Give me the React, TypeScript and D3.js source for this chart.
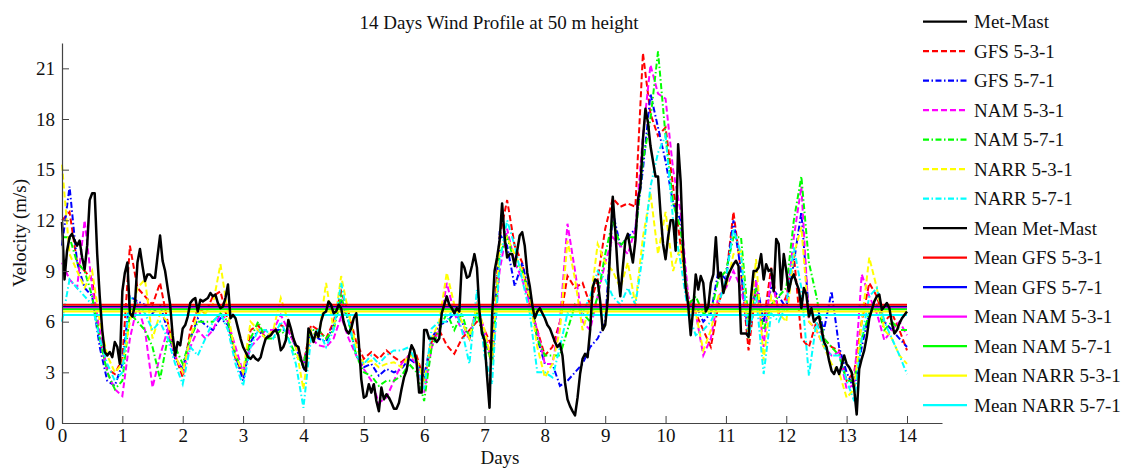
import { useEffect, useRef } from 'react'
import * as d3 from 'd3'

// Met-Mast measured speed, hourly from day 0 to day 14 (m/s)
const metMast = [
  11.9, 8.5, 10.2, 11.0, 11.2, 10.8, 10.5, 10.8, 9.8, 9.1, 10.5, 13.2, 13.6, 13.6, 10.0, 7.5, 5.5, 4.2, 4.0, 4.2, 3.9, 4.8, 4.5, 3.5,
  7.8, 8.9, 9.5, 6.5, 6.3, 7.0, 9.5, 10.3, 9.3, 8.4, 8.8, 8.8, 8.6, 8.6, 9.9, 11.1, 9.6, 9.0, 8.0, 7.0, 5.2, 4.0, 4.8, 4.6,
  5.6, 5.8, 6.3, 7.1, 7.3, 7.4, 6.6, 7.3, 7.2, 7.3, 7.4, 7.7, 7.5, 7.6, 7.1, 6.8, 6.9, 7.4, 8.2, 6.2, 6.4, 6.2, 5.6, 5.0,
  4.5, 4.2, 3.9, 3.8, 4.0, 3.8, 3.7, 3.9, 4.5, 5.0, 5.1, 5.2, 5.4, 5.5, 5.2, 4.3, 4.5, 4.9, 6.1, 5.6, 5.0, 4.6, 4.5, 3.8,
  3.3, 3.1, 5.6, 5.3, 4.8, 5.4, 5.1, 6.0, 6.5, 6.6, 7.2, 7.0, 6.5, 6.6, 7.0, 6.8, 6.0, 5.5, 5.3, 5.6, 6.2, 6.5, 4.8, 2.6,
  1.5, 1.6, 2.3, 1.8, 2.3, 1.3, 0.7, 2.1, 1.4, 1.7, 1.5, 1.2, 0.85, 0.85, 1.2, 2.0, 2.7, 3.1, 4.0, 4.6, 4.3, 3.6, 1.8, 1.8,
  5.5, 5.5, 5.0, 5.0, 5.0, 4.8, 5.0, 6.5, 7.0, 7.5, 7.0, 6.8, 6.5, 6.8, 6.6, 9.5, 9.2, 8.6, 8.7, 9.3, 10.0, 9.2, 6.6, 5.3,
  4.9, 2.8, 0.9, 6.3, 9.0, 9.8, 10.8, 13.0, 11.0, 9.8, 10.0, 10.0, 9.3, 10.2, 11.1, 11.3, 10.5, 8.9, 8.1, 7.0, 6.2, 6.6, 6.8, 6.5,
  6.2, 5.8, 5.6, 5.2, 4.8, 4.5, 4.7, 4.0, 2.4, 1.4, 1.0, 0.7, 0.45, 1.5, 2.9, 3.8, 4.1, 3.9, 5.5, 8.0, 8.5, 8.4, 7.2, 5.5,
  5.8, 7.3, 10.4, 13.4, 11.4, 9.0, 7.5, 9.2, 10.8, 11.2, 10.3, 9.5, 10.8, 13.2, 14.0, 16.8, 18.6, 17.8, 16.4, 15.5, 14.6, 14.6, 12.4, 10.6,
  9.7, 11.0, 12.0, 12.0, 10.2, 16.5, 14.3, 10.3, 8.0, 7.0, 5.2, 6.8, 8.8, 7.9, 8.7, 8.3, 6.6, 6.9, 8.3, 8.8, 11.0, 8.6, 8.9, 7.7,
  8.3, 8.8, 9.1, 9.4, 9.6, 9.3, 5.3, 5.3, 5.3, 5.1, 7.5, 9.0, 9.0, 9.2, 10.0, 8.5, 9.4, 9.0, 9.1, 7.8, 10.9, 10.6, 7.9, 10.0,
  9.0, 7.8, 8.5, 8.8, 8.3, 7.9, 6.8, 8.0, 7.6, 6.3, 6.8, 6.0, 6.2, 6.3, 5.6, 4.8, 4.5, 3.7, 3.1, 2.9, 3.3, 2.9, 3.4, 4.0,
  3.5, 3.3, 3.0, 2.0, 0.5, 3.2, 3.8, 4.3, 5.1, 6.2, 6.7, 7.2, 7.5, 7.6, 6.7, 6.9, 7.1, 6.8, 5.9, 5.3, 5.5, 5.9, 6.2, 6.4,
  6.6
]

// model predictions, every 3 hours (m/s)
const gfs531 = [
  12.0, 12.5, 9.5, 9.0, 8.5, 5.0, 3.2, 2.9,
  3.8, 10.5, 8.0, 7.5, 7.0, 8.3, 6.0, 4.0,
  2.7, 5.5, 6.8, 6.5, 7.5, 7.8, 6.0, 3.8,
  2.9, 5.5, 5.8, 5.0, 5.5, 5.8, 5.5, 4.5,
  3.5, 5.8, 5.5, 5.0, 6.0, 7.8, 6.5, 4.8,
  3.8, 4.2, 3.8, 4.3, 3.9, 3.6, 4.0, 4.0,
  2.5, 4.8, 5.5, 4.6, 4.1, 5.0, 5.5, 6.0,
  5.5, 4.5, 11.0, 13.2, 10.5, 9.5, 7.0, 5.5,
  4.0, 4.5, 6.0, 8.7, 8.0, 8.3, 7.0, 8.5,
  11.5, 13.3, 12.8, 13.0, 12.8, 21.9, 18.3, 17.0,
  17.5, 14.0, 10.5, 7.5, 6.5, 5.5, 4.5, 7.0,
  8.5, 12.5, 9.0, 4.3, 8.0, 6.0, 9.2, 6.5,
  7.5, 10.0, 5.0, 4.5, 6.0, 5.0, 4.5, 4.3,
  2.5, 3.0, 6.0, 8.3, 7.5, 6.0, 6.5, 5.5, 4.3
]
const gfs571 = [
  10.5, 14.0, 9.5, 8.0, 7.5, 4.5, 2.5, 2.2,
  3.5, 7.5, 7.2, 7.0, 6.5, 7.0, 5.5, 3.8,
  3.2, 5.0, 6.2, 5.8, 5.5, 6.2, 5.8, 4.0,
  2.5, 4.8, 5.5, 5.0, 5.5, 5.5, 5.5, 4.5,
  3.3, 5.5, 5.0, 4.8, 5.8, 7.2, 6.0, 4.0,
  3.3, 3.5, 2.8, 3.2, 3.0, 3.2, 3.8, 3.5,
  2.8, 5.0, 5.8, 6.0, 6.5, 6.0, 5.0, 7.0,
  5.0, 3.5, 11.2, 10.5, 8.1, 9.5, 7.5, 5.0,
  3.5, 3.5, 2.2, 2.5, 3.0, 3.5, 4.5, 5.0,
  6.0, 12.5, 10.5, 11.0, 11.5, 15.0, 19.5, 17.5,
  15.5, 13.0, 12.0, 7.0, 7.0, 6.0, 6.5, 9.0,
  8.5, 12.0, 9.0, 5.0, 8.5, 6.0, 8.0, 7.5,
  6.8, 9.5, 12.5, 6.5, 7.0, 5.5, 7.8, 4.5,
  3.0, 2.0, 4.5, 6.5, 7.0, 6.0, 5.5, 5.0, 4.5
]
const nam531 = [
  9.5, 8.5, 8.0, 12.0, 8.0, 5.5, 3.0, 2.0,
  1.6, 5.0, 7.0, 5.5, 2.1, 4.0, 5.5, 4.0,
  3.0, 4.5, 5.5, 5.0, 5.5, 6.5, 6.0, 4.5,
  3.0, 4.5, 5.0, 5.5, 5.5, 6.4, 5.5, 4.5,
  3.6, 5.0, 4.6, 4.5, 5.0, 6.3, 5.0, 4.0,
  3.2, 2.5, 1.2, 1.5, 2.5, 3.5, 4.0, 3.5,
  1.8, 4.5, 5.5, 8.3, 6.5, 5.5, 5.0, 7.0,
  5.5, 3.5, 9.0, 11.5, 9.5, 8.5, 7.0, 5.5,
  3.5, 3.5, 6.0, 11.8, 9.0, 6.0, 5.5, 7.5,
  9.5, 11.0, 10.5, 10.0, 11.5, 17.0, 21.2, 19.5,
  19.2, 15.0, 12.5, 7.5, 6.5, 4.0, 5.0, 7.5,
  8.0, 9.0, 8.0, 5.5, 8.5, 4.5, 8.7, 6.5,
  7.0, 11.0, 14.0, 6.0, 5.5, 4.5, 4.0, 4.2,
  2.0, 2.3, 8.8, 7.5, 6.5, 4.9, 5.5, 6.0, 5.2
]
const nam571 = [
  11.0, 11.0, 9.5, 9.0, 7.5, 5.0, 3.0, 2.0,
  2.5, 6.5, 6.0, 5.5, 4.5, 2.6, 5.0, 4.5,
  3.5, 5.0, 6.0, 6.0, 6.0, 6.5, 6.0, 4.0,
  3.0, 5.0, 6.0, 5.0, 5.0, 5.5, 5.0, 4.0,
  3.5, 5.5, 5.5, 5.0, 5.5, 7.5, 6.0, 4.0,
  3.0, 2.8, 2.2, 2.5, 2.5, 2.8, 3.5, 3.0,
  1.3, 4.5, 5.5, 6.5, 5.5, 6.5, 5.0, 6.5,
  5.0, 3.5, 10.0, 11.0, 9.5, 9.0, 7.5, 5.0,
  4.0, 4.0, 4.0, 5.5, 7.0, 6.5, 6.0, 7.5,
  10.0, 12.0, 10.5, 11.0, 11.0, 15.5, 18.0, 22.0,
  17.0, 13.0, 11.5, 7.0, 7.5, 6.5, 6.5, 8.5,
  9.0, 11.0, 11.0, 6.0, 8.0, 5.5, 7.0, 7.5,
  8.0, 12.0, 14.6, 9.5, 7.5, 5.0, 4.5, 4.0,
  2.5, 2.5, 5.0, 6.5, 7.0, 5.5, 6.0, 5.5, 5.5
]
const narr531 = [
  15.3, 10.0, 9.0, 8.0, 9.0, 6.0, 4.0, 3.0,
  3.5, 6.0, 8.0, 8.5, 5.0, 6.5, 6.0, 4.0,
  3.0, 5.0, 6.5, 6.5, 7.0, 9.4, 6.5, 4.0,
  3.0, 6.0, 5.5, 5.0, 5.5, 7.4, 6.0, 4.5,
  2.0, 5.5, 5.0, 8.3, 5.5, 8.7, 6.5, 4.5,
  3.5, 3.7, 3.3, 3.5, 3.6, 3.3, 4.0, 3.8,
  2.5, 5.0, 6.0, 8.9, 7.0, 6.0, 5.0, 7.0,
  5.5, 3.5, 10.5, 11.0, 10.0, 9.0, 7.5, 4.5,
  2.7, 3.5, 5.5, 10.8, 8.5, 5.5, 7.0, 10.6,
  9.5, 9.0, 8.0, 9.5, 7.0, 11.0, 13.6, 10.0,
  12.5, 9.0, 10.5, 7.0, 6.5, 4.3, 5.5, 7.5,
  8.0, 10.0, 10.2, 5.0, 9.7, 3.7, 7.5, 6.5,
  6.0, 10.0, 11.6, 6.0, 5.5, 4.5, 3.5, 3.0,
  1.5, 2.0, 6.0, 9.8, 8.0, 5.5, 5.0, 4.0, 3.5
]
const narr571 = [
  6.0, 8.5, 8.0, 7.5, 7.0, 5.0, 3.5, 2.5,
  3.0, 7.5, 7.0, 6.5, 5.5, 6.0, 5.0, 3.5,
  2.3, 4.5, 4.0, 5.0, 6.0, 6.5, 5.5, 3.5,
  2.2, 4.5, 5.5, 5.5, 5.0, 6.0, 5.0, 3.5,
  0.9, 5.0, 5.5, 4.5, 5.5, 8.3, 6.0, 4.0,
  3.5, 4.0, 3.5, 4.0, 4.3, 4.3, 4.5, 3.5,
  2.0, 5.6, 6.0, 6.0, 7.0, 5.5, 3.5, 7.9,
  4.0, 2.3, 9.5, 12.0, 10.5, 8.5, 6.5, 3.0,
  3.0, 2.7, 4.5, 6.5, 7.0, 6.5, 7.5, 9.0,
  8.5, 7.5, 7.0, 8.0, 7.0, 10.0, 14.0, 16.0,
  17.0, 12.0, 9.5, 6.5, 5.2, 5.5, 6.0, 7.0,
  8.5, 11.5, 10.0, 5.0, 7.5, 2.9, 6.5, 6.0,
  7.0, 10.4, 8.0, 2.8, 6.0, 4.5, 4.0, 4.0,
  2.5, 1.3, 5.0, 7.5, 8.0, 6.0, 5.0, 4.0, 2.9
]

// 14-day means (Met-Mast, GFS 5-3-1, GFS 5-7-1, NAM 5-3-1, NAM 5-7-1, NARR 5-3-1, NARR 5-7-1)
const meanLabels = ['Mean Met-Mast', 'Mean GFS 5-3-1', 'Mean GFS 5-7-1', 'Mean NAM 5-3-1', 'Mean NAM 5-7-1', 'Mean NARR 5-3-1', 'Mean NARR 5-7-1']
const meanValues = [6.88, 7.0, 6.84, 6.8, 6.73, 6.6, 6.4]

const yTicks = [0, 3, 6, 9, 12, 15, 18, 21]
const xTicks = [0, 1, 2, 3, 4, 5, 6, 7, 8, 9, 10, 11, 12, 13, 14]

const FONT = '"Liberation Serif", "Times New Roman", serif'
const DASH = '6,3'
const DASHDOT = '6,2.5,1.5,2.5'

const models = [
  { label: 'GFS 5-3-1', values: gfs531, color: '#ff0000', dash: DASH },
  { label: 'GFS 5-7-1', values: gfs571, color: '#0000ff', dash: DASHDOT },
  { label: 'NAM 5-3-1', values: nam531, color: '#ff00ff', dash: DASH },
  { label: 'NAM 5-7-1', values: nam571, color: '#00ff00', dash: DASHDOT },
  { label: 'NARR 5-3-1', values: narr531, color: '#ffff00', dash: DASH },
  { label: 'NARR 5-7-1', values: narr571, color: '#00ffff', dash: DASHDOT }
]
const meanColors = ['#000000', '#ff0000', '#0000ff', '#ff00ff', '#00ff00', '#ffff00', '#00ffff']

export default function App() {
  const svgRef = useRef<SVGSVGElement>(null)

  useEffect(() => {
    if (!svgRef.current) return
    const svg = d3.select(svgRef.current)
    svg.selectAll('*').remove()

    const x = d3.scaleLinear().domain([0, 14.58]).range([62, 942])
    const y = d3.scaleLinear().domain([0, 22.5]).range([423, 43])

    // title
    svg.append('text')
      .attr('x', 499)
      .attr('y', 29)
      .attr('text-anchor', 'middle')
      .attr('font-family', FONT)
      .attr('font-size', 19)
      .attr('fill', '#111')
      .text('14 Days Wind Profile at 50 m height')

    const plot = svg.append('g')

    // model series (3-hourly)
    models.forEach(m => {
      const line = d3.line<number>()
        .x((_, i) => x(i / 8))
        .y(v => y(v))
      plot.append('path')
        .datum(m.values)
        .attr('fill', 'none')
        .attr('stroke', m.color)
        .attr('stroke-width', 2)
        .attr('stroke-dasharray', m.dash)
        .attr('d', line)
    })

    // mean lines
    meanValues.forEach((v, i) => {
      plot.append('line')
        .attr('x1', x(0))
        .attr('x2', x(14))
        .attr('y1', y(v))
        .attr('y2', y(v))
        .attr('stroke', meanColors[i])
        .attr('stroke-width', 2)
    })

    // met-mast (hourly)
    const mastLine = d3.line<number>()
      .x((_, i) => x(i / 24))
      .y(v => y(v))
    plot.append('path')
      .datum(metMast)
      .attr('fill', 'none')
      .attr('stroke', '#000')
      .attr('stroke-width', 2.5)
      .attr('stroke-linejoin', 'round')
      .attr('d', mastLine)

    // axes
    const yAxis = svg.append('g')
      .attr('transform', `translate(${x(0)},0)`)
      .call(d3.axisLeft(y).tickValues(yTicks).tickSizeInner(-7).tickSizeOuter(0).tickPadding(7))
    const xAxis = svg.append('g')
      .attr('transform', `translate(0,${y(0)})`)
      .call(d3.axisBottom(x).tickValues(xTicks).tickSizeInner(-7).tickSizeOuter(0).tickPadding(6))

    ;[yAxis, xAxis].forEach(a => {
      a.attr('font-family', FONT).attr('font-size', 19)
      a.select('.domain').attr('stroke', '#444').attr('stroke-width', 1.2)
      a.selectAll('.tick line').attr('stroke', '#444')
      a.selectAll('.tick text').attr('fill', '#111')
    })

    // axis labels
    svg.append('text')
      .attr('transform', `translate(26,${(y(0) + y(22.5)) / 2}) rotate(-90)`)
      .attr('text-anchor', 'middle')
      .attr('font-family', FONT)
      .attr('font-size', 19)
      .attr('fill', '#111')
      .text('Velocity (m/s)')

    svg.append('text')
      .attr('x', 500)
      .attr('y', 464)
      .attr('text-anchor', 'middle')
      .attr('font-family', FONT)
      .attr('font-size', 19)
      .attr('fill', '#111')
      .text('Days')

    // legend
    const legendItems = [
      { label: 'Met-Mast', color: '#000', dash: null as string | null },
      ...models.map(m => ({ label: m.label, color: m.color, dash: m.dash as string | null })),
      ...meanLabels.map((l, i) => ({ label: l, color: meanColors[i], dash: null as string | null }))
    ]
    const legend = svg.append('g')
    legendItems.forEach((item, i) => {
      const ly = 21.7 + i * 29.5
      legend.append('line')
        .attr('x1', 923)
        .attr('x2', 967)
        .attr('y1', ly)
        .attr('y2', ly)
        .attr('stroke', item.color)
        .attr('stroke-width', 2.2)
        .attr('stroke-dasharray', item.dash ?? null)
      legend.append('text')
        .attr('x', 974)
        .attr('y', ly)
        .attr('dominant-baseline', 'central')
        .attr('font-family', FONT)
        .attr('font-size', 19)
        .attr('fill', '#111')
        .text(item.label)
    })
  }, [])

  return (
    <div style={{ position: 'absolute', left: 0, top: 0, background: '#fff' }}>
      <svg ref={svgRef} width={1127} height={468} style={{ display: 'block' }}></svg>
    </div>
  )
}
